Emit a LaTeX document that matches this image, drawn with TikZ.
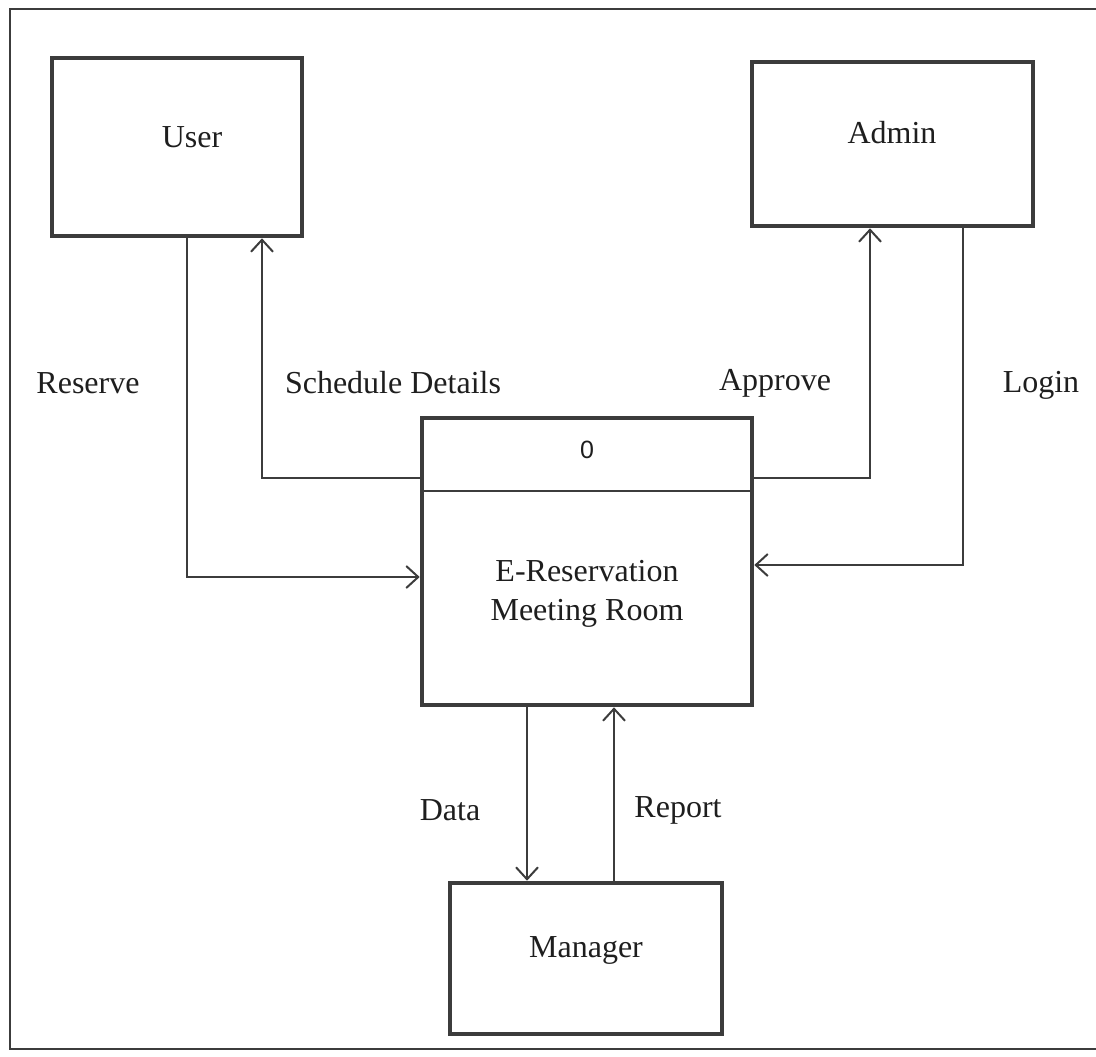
\documentclass[tikz,border=0pt]{standalone}
\usepackage{fontspec}
\setmainfont{Liberation Serif}
\newfontfamily\digitfont{Liberation Sans}
\usetikzlibrary{arrows.meta}
\definecolor{ink}{HTML}{3C3C3C}
\definecolor{txt}{HTML}{1E1E1E}
\tikzset{
  entity/.style={draw=ink, line width=2.3pt, rectangle, inner sep=0pt},
  lbl/.style={text=txt, font=\fontsize{16}{19.5}\selectfont, inner sep=0pt, align=center},
  flow/.style={draw=ink, line width=1pt, -{Straight Barb[length=6pt,width=11pt,line width=1pt]}},
  plain/.style={draw=ink, line width=1pt}
}
\begin{document}
\begin{tikzpicture}[x=0.5pt,y=-0.5pt]
\useasboundingbox (0,0) rectangle (1096,1056);
% outer frame
\draw[ink, line width=1pt] (10,9) rectangle (1110,1049);
% boxes
\node[entity, minimum width=125pt, minimum height=89pt] (user) at (177,147) {};
\node[lbl] (userlbl) at (192,137) {User};
\node[entity, minimum width=140.5pt, minimum height=82pt] (admin) at (892.5,144) {};
\node[lbl] (adminlbl) at (892,133) {Admin};
\node[entity, minimum width=165pt, minimum height=143.5pt] (center) at (587,561.5) {};
\node[lbl] (centerlbl) at (587,594) {E-Reservation\\Meeting Room};
\node[text=txt, inner sep=0pt, font=\digitfont\fontsize{12.5}{15}\selectfont] (zero) at (587,450) {0};
\coordinate (divl) at (422,491);
\coordinate (divr) at (752,491);
\draw[plain] (divl) -- (divr);
\node[entity, minimum width=136pt, minimum height=75.5pt] (manager) at (586,958.5) {};
\node[lbl] (managerlbl) at (586,950) {Manager};
% helper coordinates
\coordinate (rx) at (187,0);
\coordinate (ry) at (0,577);
\coordinate (sx) at (262,0);
\coordinate (sy) at (0,478);
\coordinate (ax) at (870,0);
\coordinate (lx) at (963,0);
\coordinate (ly) at (0,565);
\coordinate (dx) at (527,0);
\coordinate (px) at (614,0);
% connectors
\draw[flow] (user.south -| rx) |- (center.west |- ry);
\draw[flow] (center.west |- sy) -| (user.south -| sx);
\draw[flow] (center.east |- sy) -| (admin.south -| ax);
\draw[flow] (admin.south -| lx) |- (center.east |- ly);
\draw[flow] (center.south -| dx) -- (manager.north -| dx);
\draw[flow] (manager.north -| px) -- (center.south -| px);
% labels
\node[lbl] (reserve) at (88,383) {Reserve};
\node[lbl] (sched) at (393,383) {Schedule Details};
\node[lbl] (approve) at (775,383) {Approve};
\node[lbl] (login) at (1041,385) {Login};
\node[lbl] (data) at (450,810) {Data};
\node[lbl] (report) at (678,810) {Report};
\end{tikzpicture}
\end{document}
